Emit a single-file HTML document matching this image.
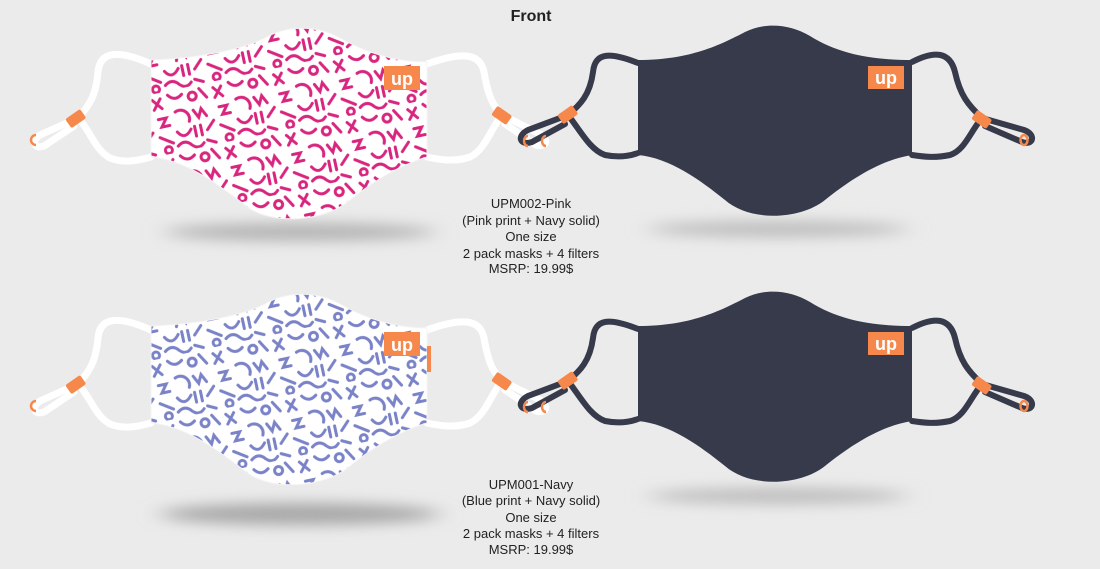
<!DOCTYPE html>
<html><head><meta charset="utf-8"><style>
html,body{margin:0;padding:0;background:#ebebeb;}
svg{display:block;}
text{font-family:"Liberation Sans",sans-serif;}
</style></head><body>
<svg width="1100" height="569" viewBox="0 0 1100 569" xmlns="http://www.w3.org/2000/svg">
<defs>
<filter id="blur" x="-50%" y="-200%" width="200%" height="500%"><feGaussianBlur stdDeviation="12 7"/></filter>
<g id="tile" fill="none" stroke-width="3" stroke-linecap="round">
  <path d="M4,6 L12,16 M12,6 L4,16"/>
  <path d="M20,4 q6,8 14,2"/>
  <circle cx="44" cy="10" r="4"/>
  <path d="M52,4 L58,14"/>
  <path d="M6,26 l8,0 l-6,8 l8,0"/>
  <path d="M24,22 a9,9 0 0 1 12,12"/>
  <path d="M42,24 l4,8 l4,-8 l4,8"/>
  <path d="M4,44 L16,52"/>
  <path d="M22,42 q6,10 14,0"/>
  <path d="M40,40 L40,50 M46,40 L46,50"/>
  <path d="M52,46 L60,38"/>
  <circle cx="10" cy="58" r="3.5"/>
  <path d="M20,56 q8,-6 14,2 q6,6 12,0"/>
  <path d="M50,56 L58,60"/>
</g>
<pattern id="pp" width="62" height="62" patternUnits="userSpaceOnUse" patternTransform="rotate(-12)">
  <rect width="62" height="62" fill="#fff"/>
  <use href="#tile" stroke="#d8267f"/>
</pattern>
<pattern id="bp" width="62" height="62" patternUnits="userSpaceOnUse" patternTransform="rotate(-12)">
  <rect width="62" height="62" fill="#fff"/>
  <use href="#tile" stroke="#7a82c8"/>
</pattern>
<path id="pm" d="M151,60 C200,58 240,50 265,38 C285,26 315,24 340,38 C370,55 400,62 427,62 L427,157 C400,165 375,180 350,200 C325,222 270,226 245,205 C215,182 185,160 151,157 Z"/>
<path id="nm" d="M638,60 C690,60 720,45 745,32 C765,22 790,24 810,36 C840,55 875,60 912,60 L912,155 C880,160 850,180 825,200 C800,220 750,222 725,200 C700,180 670,158 638,155 Z"/>
<g id="rowstraps">
  <g fill="none" stroke="#fff" stroke-width="7" stroke-linecap="round">
    <path d="M151,64 C120,50 100,50 98,72 C96,95 90,105 78,118 C90,130 95,150 110,158 C125,164 140,160 151,157"/>
    <path d="M78,118 L42,134 C30,140 34,150 44,146 L74,126"/>
    <path d="M427,64 C460,52 480,52 484,72 C488,95 492,105 502,115 C490,130 485,150 470,157 C455,162 440,160 427,157"/>
    <path d="M502,115 L540,134 C550,140 546,148 536,145 L505,124"/>
  </g>
  <g fill="none" stroke="#363a4a" stroke-width="6" stroke-linecap="round">
    <path d="M638,63 C610,52 595,52 593,72 C590,95 580,105 568,115 C580,130 590,150 605,155 C620,158 630,156 638,153"/>
    <path d="M568,115 L528,130 C516,136 520,146 532,142 L565,124"/>
    <path d="M912,62 C935,50 950,52 955,72 C960,95 968,105 982,118 C970,132 965,150 950,155 C935,158 925,157 912,155"/>
    <path d="M982,118 L1024,130 C1036,134 1034,146 1022,142 L985,126"/>
  </g>
  <g fill="#f6884c">
    <rect x="70" y="110" width="11" height="18" rx="2" transform="rotate(55 76 119)"/>
    <rect x="496" y="106" width="11" height="18" rx="2" transform="rotate(-55 502 115)"/>
    <rect x="562" y="106" width="11" height="18" rx="2" transform="rotate(55 568 115)"/>
    <rect x="976" y="110" width="11" height="18" rx="2" transform="rotate(-55 982 119)"/>
  </g>
  <g fill="none" stroke="#f6884c" stroke-width="2.5">
    <path d="M36,135 a5,5 0 1 0 0,10"/>
    <path d="M528,136 a4,5 0 1 0 0,10"/>
    <path d="M546,136 a4,5 0 1 0 0,10"/>
    <ellipse cx="1024" cy="140" rx="3.5" ry="5"/>
  </g>
</g>
<g id="logos">
  <rect x="384" y="66" width="36" height="24" fill="#f6884c"/>
  <text x="402" y="85" font-size="18" font-weight="bold" fill="#fff" text-anchor="middle">up</text>
  <rect x="868" y="66" width="36" height="23" fill="#f6884c"/>
  <text x="886" y="84" font-size="18" font-weight="bold" fill="#fff" text-anchor="middle">up</text>
</g>
</defs>

<text x="531" y="21" font-size="16" font-weight="bold" fill="#222" text-anchor="middle">Front</text>

<ellipse cx="300" cy="232" rx="135" ry="9" fill="#b4b4b4" filter="url(#blur)"/>
<ellipse cx="778" cy="229" rx="130" ry="8" fill="#bdbdbd" filter="url(#blur)"/>
<ellipse cx="300" cy="514" rx="140" ry="11" fill="#a8a8a8" filter="url(#blur)"/>
<ellipse cx="778" cy="496" rx="130" ry="8" fill="#bdbdbd" filter="url(#blur)"/>

<use href="#rowstraps"/>
<use href="#pm" fill="url(#pp)" stroke="#f4f4f4" stroke-width="1"/>
<use href="#nm" fill="#363a4a"/>
<use href="#logos"/>

<g transform="translate(0,266)">
  <use href="#rowstraps"/>
  <use href="#pm" fill="url(#bp)" stroke="#f4f4f4" stroke-width="1"/>
  <use href="#nm" fill="#363a4a"/>
  <use href="#logos"/>
  <rect x="427" y="80" width="4" height="26" fill="#f6884c"/>
</g>

<g font-size="13" fill="#222" text-anchor="middle">
  <text x="531" y="208">UPM002-Pink</text>
  <text x="531" y="225">(Pink print + Navy solid)</text>
  <text x="531" y="241">One size</text>
  <text x="531" y="258">2 pack masks + 4 filters</text>
  <text x="531" y="273">MSRP: 19.99$</text>
  <text x="531" y="489">UPM001-Navy</text>
  <text x="531" y="505">(Blue print + Navy solid)</text>
  <text x="531" y="522">One size</text>
  <text x="531" y="538">2 pack masks + 4 filters</text>
  <text x="531" y="554">MSRP: 19.99$</text>
</g>
</svg>
</body></html>
